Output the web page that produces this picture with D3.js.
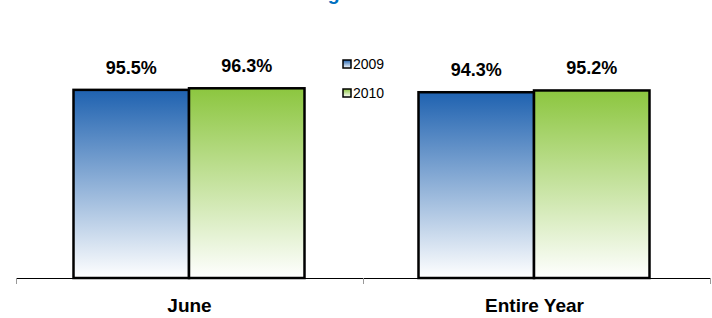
<!DOCTYPE html>
<html><head><meta charset="utf-8">
<script src="https://cdn.jsdelivr.net/npm/d3@7"></script>
<style>body{margin:0;background:#fff}svg{display:block;font-family:"Liberation Sans",Arial,sans-serif}</style>
</head><body><svg id="c" width="712" height="318"></svg>
<script>
const categories = ["June", "Entire Year"];
const seriesNames = ["2009", "2010"];
const values2009 = [95.5, 94.3];
const values2010 = [96.3, 95.2];
const titleText = "Dealer Sales – Customer Rating Results";

const svg = d3.select("#c");
const defs = svg.append("defs");
const colors = {"2009": "#1f62b0", "2010": "#8cc63f"};
seriesNames.forEach(s => {
  const g = defs.append("linearGradient").attr("id", "g" + s).attr("x1", 0).attr("y1", 0).attr("x2", 0).attr("y2", 1);
  g.append("stop").attr("offset", "0%").attr("stop-color", colors[s]);
  g.append("stop").attr("offset", "100%").attr("stop-color", "#ffffff");
});

// clipped title at very top (as in the reference)
svg.append("text").attr("x", 45).attr("y", 0).attr("fill", "#0070c0")
  .attr("font-size", 19.5).attr("font-weight", "bold").text(titleText);

const x0 = d3.scaleBand().domain(categories).range([16, 710]).padding(0);
const x1 = d3.scaleBand().domain(seriesNames).range([0, 231]);
const y = d3.scaleLinear().domain([0, 100]).range([278, 81]);

const data = categories.map((c, i) => ({cat: c, vals: [{s: "2009", v: values2009[i]}, {s: "2010", v: values2010[i]}]}));
const groups = svg.append("g").selectAll("g").data(data).join("g")
  .attr("transform", d => `translate(${x0(d.cat) + x0.bandwidth() / 2 - 116 - (d.cat === "June" ? 0 : 2)},0)`);

groups.selectAll("rect").data(d => d.vals).join("rect")
  .attr("x", d => x1(d.s)).attr("y", d => y(d.v))
  .attr("width", x1.bandwidth()).attr("height", d => y(0) - y(d.v))
  .attr("fill", d => `url(#g${d.s})`).attr("stroke", "#000").attr("stroke-width", 2.5);

groups.selectAll("text.lbl").data(d => d.vals).join("text").attr("class", "lbl")
  .attr("x", d => x1(d.s) + x1.bandwidth() / 2).attr("y", d => y(d.v) - 16)
  .attr("text-anchor", "middle").attr("font-size", 18).attr("font-weight", "bold")
  .text(d => d.v.toFixed(1) + "%");

// axis
const ax = svg.append("g").attr("transform", "translate(0,278)")
  .call(d3.axisBottom(x0).tickSize(0).tickFormat(""));
ax.select(".domain").attr("stroke", "#000").attr("stroke-width", 1).attr("d", "M16,0.5H710");
const tickPos = [16, 363, 710];
ax.selectAll("line.t").data(tickPos).join("line").attr("class", "t")
  .attr("x1", d => d + 0.5).attr("x2", d => d + 0.5).attr("y1", 0).attr("y2", 6).attr("stroke", "#999").attr("stroke-width", 1);
svg.append("g").selectAll("text").data(categories).join("text")
  .attr("x", d => x0(d) + x0.bandwidth() / 2 - (d === "June" ? 0 : 2)).attr("y", 312)
  .attr("text-anchor", "middle").attr("font-size", 19).attr("font-weight", "bold").text(d => d);

// legend
const leg = svg.append("g").selectAll("g").data(seriesNames).join("g")
  .attr("transform", (d, i) => `translate(343,${60 + i * 29})`);
leg.append("rect").attr("x", 0).attr("y", 0).attr("width", 8).attr("height", 8)
  .attr("fill", d => `url(#g${d})`).attr("stroke", "#000").attr("stroke-width", 1.5);
leg.append("text").attr("x", 10).attr("y", 9).attr("font-size", 14).text(d => d);
</script></body></html>
